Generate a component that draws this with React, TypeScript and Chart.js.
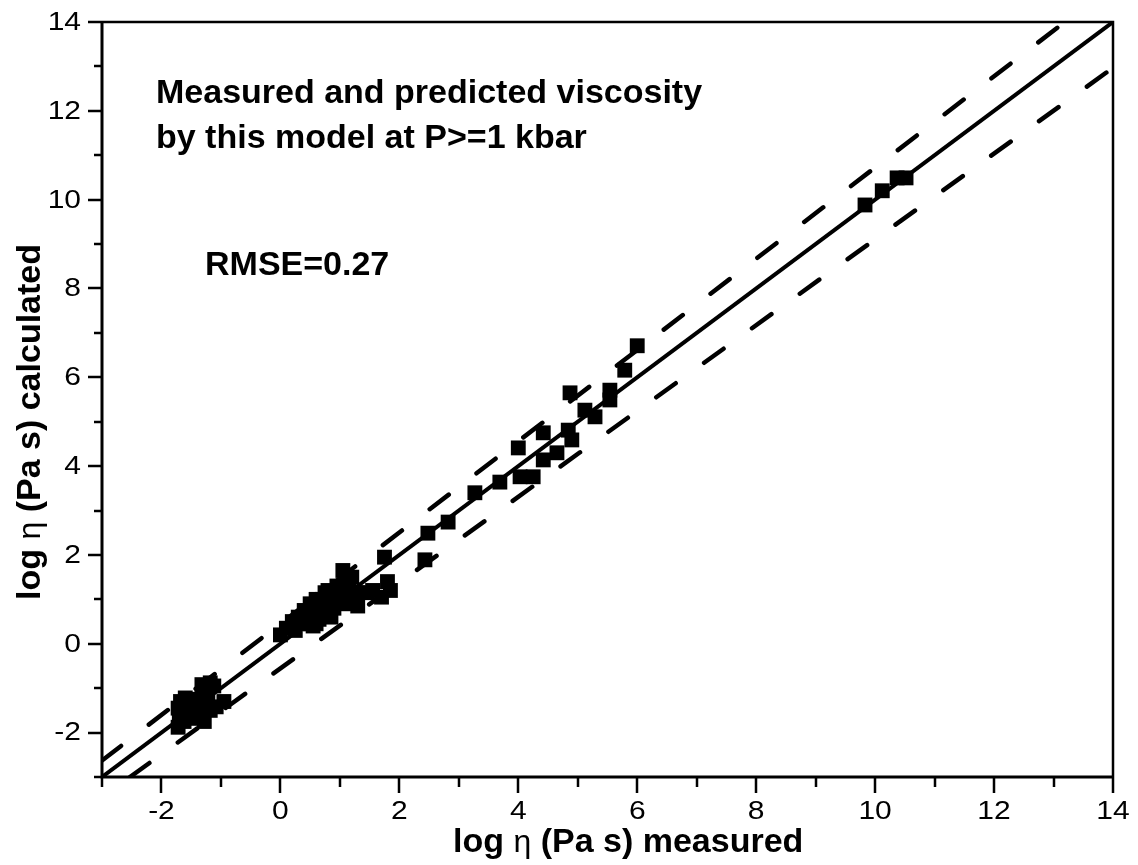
import React, { useEffect, useRef } from 'react';
import { Chart, registerables } from 'chart.js';

Chart.register(...registerables);

// ---- data ----
const measured = [
  // low cluster
  -1.72, -1.70, -1.68, -1.62, -1.58, -1.52, -1.48, -1.42, -1.38, -1.32,
  -1.28, -1.22, -1.18, -1.12, -1.08, -0.95, -1.18, -1.28, -1.72, -1.60,
  // middle cluster
  0.0, 0.1, 0.2, 0.25, 0.3, 0.35, 0.4, 0.45, 0.5, 0.5,
  0.55, 0.6, 0.65, 0.7, 0.7, 0.75, 0.8, 0.85, 0.9, 0.9,
  0.95, 1.0, 1.05, 1.1, 1.1, 1.15, 1.2, 1.3, 1.3, 1.45,
  1.55, 1.7, 1.75, 1.8, 1.85, 1.2, 0.6, 0.8, 0.4, 0.65,
  0.5, 0.6,
  // upper points
  2.43, 2.48, 2.82, 3.27, 3.69, 4.03, 4.25, 4.0, 4.42, 4.42,
  4.65, 4.84, 4.9, 4.87, 5.12, 5.29, 5.54, 5.54, 5.79, 6.0,
  9.83, 10.12, 10.37, 10.52,
];
const calculated = [
  -1.88, -1.60, -1.30, -1.75, -1.48, -1.25, -1.68, -1.55, -1.38, -0.92,
  -1.75, -1.20, -1.50, -0.95, -1.42, -1.30, -0.88, -1.08, -1.45, -1.22,
  0.2, 0.35, 0.5, 0.3, 0.6, 0.45, 0.75, 0.55, 0.9, 0.65,
  0.4, 0.8, 0.55, 1.0, 0.7, 1.15, 0.85, 0.6, 1.1, 0.8,
  1.3, 1.0, 1.65, 1.2, 0.9, 1.4, 0.95, 0.85, 1.15, 1.15,
  1.2, 1.05, 1.95, 1.4, 1.2, 1.5, 1.0, 1.2, 0.5, 0.95,
  0.45, 0.45,
  1.89, 2.49, 2.74, 3.4, 3.64, 3.76, 3.76, 4.41, 4.14, 4.75,
  4.3, 4.81, 4.59, 5.65, 5.26, 5.11, 5.71, 5.49, 6.16, 6.71,
  9.88, 10.2, 10.49, 10.49,
];

const identityX = [-3, 14];
const identityY = [-3, 14];
const upperX = [-3, 13.19];
const upperY = [-2.63, 14];
const lowerX = [-2.53, 14];
const lowerY = [-3, 12.97];

const xMin = -3;
const xMax = 14;
const yMin = -3;
const yMax = 14;
const xMajorTicks = [-2, 0, 2, 4, 6, 8, 10, 12, 14];
const xMinorTicks = [-3, -1, 1, 3, 5, 7, 9, 11, 13];
const yMajorTicks = [-2, 0, 2, 4, 6, 8, 10, 12, 14];
const yMinorTicks = [-3, -1, 1, 3, 5, 7, 9, 11, 13];

const titleLines = ['Measured and predicted viscosity', 'by this model at P>=1 kbar'];
const rmseText = 'RMSE=0.27';
const xTitleParts = ['log ', 'η', ' (Pa s) measured'];
const yTitleParts = ['log ', 'η', ' (Pa s) calculated'];

const FONT = '"Liberation Sans", Arial, Helvetica, sans-serif';

const decorPlugin = {
  id: 'decor',
  afterDraw(chart: any) {
    const { ctx, chartArea, scales } = chart;
    const xs = scales.x;
    const ys = scales.y;
    const { left, right, top, bottom } = chartArea;
    ctx.save();
    ctx.strokeStyle = '#000';
    ctx.lineCap = 'butt';
    // box
    ctx.lineWidth = 2.5;
    ctx.beginPath();
    ctx.moveTo(left, top);
    ctx.lineTo(right, top);
    ctx.lineTo(right, bottom);
    ctx.stroke();
    ctx.lineWidth = 3;
    ctx.beginPath();
    ctx.moveTo(left, top - 1);
    ctx.lineTo(left, bottom);
    ctx.lineTo(right + 1, bottom);
    ctx.stroke();
    // ticks
    ctx.lineWidth = 2.5;
    ctx.beginPath();
    xMajorTicks.forEach((v) => {
      const px = Math.round(xs.getPixelForValue(v));
      ctx.moveTo(px, bottom);
      ctx.lineTo(px, bottom + 16);
    });
    xMinorTicks.forEach((v) => {
      const px = Math.round(xs.getPixelForValue(v));
      ctx.moveTo(px, bottom);
      ctx.lineTo(px, bottom + 10);
    });
    yMajorTicks.forEach((v) => {
      const py = Math.round(ys.getPixelForValue(v));
      ctx.moveTo(left, py);
      ctx.lineTo(left - 14, py);
    });
    yMinorTicks.forEach((v) => {
      const py = Math.round(ys.getPixelForValue(v));
      ctx.moveTo(left, py);
      ctx.lineTo(left - 8, py);
    });
    ctx.stroke();

    // tick labels (slightly wide glyphs as in the reference)
    ctx.fillStyle = '#000';
    ctx.font = `25px ${FONT}`;
    ctx.textBaseline = 'middle';
    const stretched = (text: string, x: number, y: number, align: string) => {
      ctx.save();
      ctx.translate(x, y);
      ctx.scale(1.2, 1);
      ctx.textAlign = align;
      ctx.fillText(text, 0, 0);
      ctx.restore();
    };
    xMajorTicks.forEach((v) => {
      stretched(String(v), xs.getPixelForValue(v), bottom + 35, 'center');
    });
    yMajorTicks.forEach((v) => {
      stretched(String(v), left - 21, ys.getPixelForValue(v) + 1, 'right');
    });

    // annotation texts
    ctx.textBaseline = 'alphabetic';
    ctx.textAlign = 'left';
    ctx.font = `bold 34px ${FONT}`;
    ctx.fillText(titleLines[0], 156, 103);
    ctx.fillText(titleLines[1], 156, 148);
    ctx.fillText(rmseText, 205, 275);

    // axis titles
    const drawParts = (parts: string[], x0: number, y0: number) => {
      let x = x0;
      parts.forEach((p, i) => {
        ctx.font = i === 1 ? `32px ${FONT}` : `bold 34px ${FONT}`;
        ctx.fillText(p, x, y0);
        x += ctx.measureText(p).width;
      });
    };
    drawParts(xTitleParts, 453, 852);
    ctx.save();
    ctx.translate(40, 600);
    ctx.rotate(-Math.PI / 2);
    drawParts(yTitleParts, 0, 0);
    ctx.restore();

    ctx.restore();
  },
};

export default function App() {
  const canvasRef = useRef<HTMLCanvasElement | null>(null);

  useEffect(() => {
    if (!canvasRef.current) return;
    const points = measured.map((m, i) => ({ x: m, y: calculated[i] }));
    const toXY = (xsArr: number[], ysArr: number[]) => xsArr.map((v, i) => ({ x: v, y: ysArr[i] }));

    const chart = new Chart(canvasRef.current, {
      type: 'scatter',
      data: {
        datasets: [
          {
            label: 'identity',
            data: toXY(identityX, identityY),
            showLine: true,
            borderColor: '#000',
            borderWidth: 4,
            pointRadius: 0,
            order: 2,
          },
          {
            label: 'upper',
            data: toXY(upperX, upperY),
            showLine: true,
            borderColor: '#000',
            borderWidth: 4.5,
            borderDash: [24, 35],
            borderCapStyle: 'round',
            pointRadius: 0,
            order: 3,
          },
          {
            label: 'lower',
            data: toXY(lowerX, lowerY),
            showLine: true,
            borderColor: '#000',
            borderWidth: 4.5,
            borderDash: [24, 35],
            borderCapStyle: 'round',
            pointRadius: 0,
            order: 4,
          },
          {
            label: 'data',
            data: points,
            pointStyle: 'rect',
            pointRadius: 10.5,
            pointHoverRadius: 10.5,
            backgroundColor: '#000',
            borderWidth: 0,
            order: 1,
          },
        ],
      },
      options: {
        responsive: false,
        animation: false,
        events: [],
        layout: { padding: { top: 22, right: 25, left: 0, bottom: 0 } },
        plugins: {
          legend: { display: false },
          tooltip: { enabled: false },
        },
        scales: {
          x: {
            type: 'linear',
            min: xMin,
            max: xMax,
            grid: { display: false, drawTicks: false },
            border: { display: false },
            ticks: { display: false },
            afterFit: (scale: any) => {
              scale.height = 88;
            },
          },
          y: {
            type: 'linear',
            min: yMin,
            max: yMax,
            grid: { display: false, drawTicks: false },
            border: { display: false },
            ticks: { display: false },
            afterFit: (scale: any) => {
              scale.width = 102;
            },
          },
        },
      },
      plugins: [decorPlugin],
    } as any);

    return () => chart.destroy();
  }, []);

  return (
    <div style={{ position: 'absolute', left: 0, top: 0, width: 1138, height: 865, background: '#fff' }}>
      <canvas ref={canvasRef} width={1138} height={865} style={{ display: 'block' }} />
    </div>
  );
}
